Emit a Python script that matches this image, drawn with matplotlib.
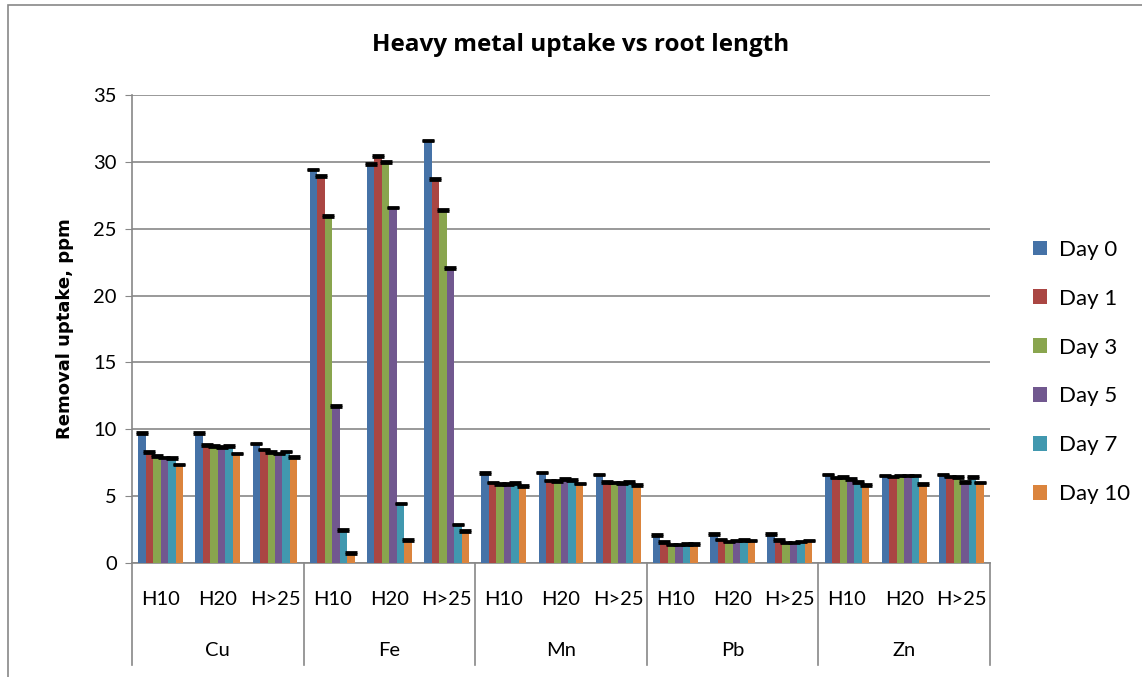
import numpy as np
import matplotlib
matplotlib.use("Agg")
import matplotlib.pyplot as plt
from matplotlib.patches import Rectangle

# metals and root length classes
metals = ["Cu", "Fe", "Mn", "Pb", "Zn"]
lengths = ["H10", "H20", "H>25"]
days = ["Day 0", "Day 1", "Day 3", "Day 5", "Day 7", "Day 10"]
colors = ["#4572A7", "#AA4643", "#89A54E", "#71588F", "#4198AF", "#DB843D"]

# removal uptake (ppm), one list per day, ordered Cu H10..H>25, Fe ..., Zn ...
day0 = [9.7, 9.72, 8.95, 29.42, 29.84, 31.59, 6.71, 6.78, 6.61, 2.09, 2.19, 2.17, 6.63, 6.53, 6.63]
day1 = [8.3, 8.83, 8.5, 28.95, 30.42, 28.72, 6.01, 6.18, 6.06, 1.57, 1.77, 1.70, 6.38, 6.48, 6.46]
day3 = [8.0, 8.75, 8.28, 25.93, 29.97, 26.38, 5.93, 6.13, 6.01, 1.37, 1.62, 1.52, 6.43, 6.53, 6.41]
day5 = [7.9, 8.68, 8.18, 11.74, 26.6, 22.06, 5.93, 6.26, 5.98, 1.39, 1.67, 1.52, 6.28, 6.53, 6.06]
day7 = [7.83, 8.77, 8.35, 2.49, 4.46, 2.87, 5.98, 6.2, 6.08, 1.42, 1.72, 1.6, 6.08, 6.53, 6.43]
day10 = [7.38, 8.2, 7.93, 0.77, 1.72, 2.39, 5.78, 5.96, 5.83, 1.42, 1.68, 1.67, 5.83, 5.91, 6.01]
series = [day0, day1, day3, day5, day7, day10]

fig = plt.figure(figsize=(11.42, 6.77), dpi=100)
ax = fig.add_axes([132 / 1142, 1 - 563 / 677, 858 / 1142, 468 / 677])

n = len(day0)
bw = 0.131
x = np.arange(n)
for k, (vals, col, lab) in enumerate(zip(series, colors, days)):
    pos = x + 0.5 + (k - 2.5) * bw
    ax.bar(pos, vals, width=bw, color=col, label=lab, edgecolor="none", zorder=3)
    ax.errorbar(pos, vals, yerr=0.06, fmt="none", ecolor="black",
                elinewidth=1, capsize=4.5, capthick=2, zorder=4)

ax.set_xlim(0, n)
ax.set_ylim(0, 35)
ax.set_yticks(np.arange(0, 36, 5))
ax.yaxis.grid(True, color="#878787", linewidth=1.2, zorder=0)
ax.set_xticks([])
for side in ["top", "right"]:
    ax.spines[side].set_visible(False)
ax.spines["left"].set_color("#878787")
ax.spines["bottom"].set_color("#878787")
ax.spines["left"].set_linewidth(1.2)
ax.spines["bottom"].set_linewidth(1.2)
ax.tick_params(axis="y", length=5, color="#878787", labelsize=14.5, pad=6)
for t in ax.get_yticklabels():
    t.set_fontfamily("Lato")

ax.set_ylabel("Removal uptake, ppm", fontsize=13, fontweight="bold",
              fontfamily="DejaVu Sans", labelpad=14)

# two-level category axis
tr = ax.get_xaxis_transform()
for i in range(n):
    ax.text(i + 0.5, -0.079, lengths[i % 3], transform=tr, ha="center", va="center",
            fontsize=14.5, fontfamily="Lato")
for g, m in enumerate(metals):
    ax.text(3 * g + 1.5, -0.186, m, transform=tr, ha="center", va="center",
            fontsize=14.5, fontfamily="Lato")
for g in range(len(metals) + 1):
    ax.plot([3 * g, 3 * g], [0, -0.218], transform=tr, color="#878787",
            linewidth=1.2, clip_on=False)

fig.text(581 / 1142, 1 - 45 / 677, "Heavy metal uptake vs root length",
         ha="center", va="center", fontsize=17.5, fontweight="bold",
         fontfamily="Open Sans")

leg = fig.legend(loc="center left", bbox_to_anchor=(1013 / 1142, 1 - 372 / 677),
                 frameon=False, prop={"family": "Lato", "size": 16},
                 labelspacing=1.3, handlelength=0.65, handleheight=0.65,
                 handletextpad=0.5)

# outer chart border
fig.add_artist(Rectangle((8 / 1142, -0.01), 1.2, 1 - 5 / 677 + 0.01,
                         transform=fig.transFigure, fill=False,
                         edgecolor="#878787", linewidth=1.2))

fig.savefig("out.png", dpi=100)
